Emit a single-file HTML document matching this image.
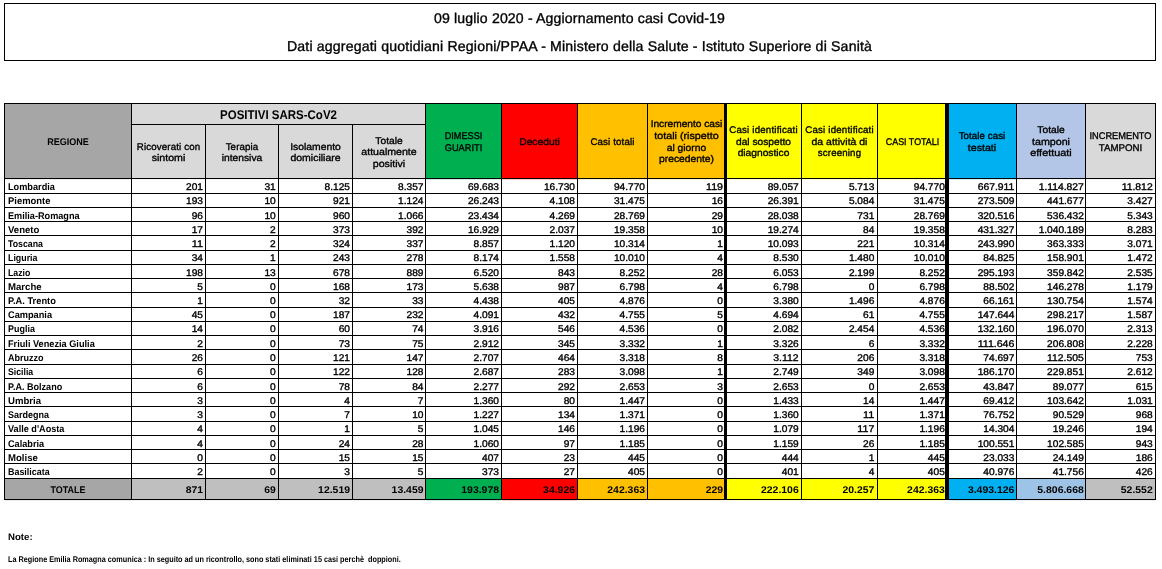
<!DOCTYPE html>
<html lang="it"><head><meta charset="utf-8"><title>Aggiornamento casi Covid-19</title>
<style>
html,body{margin:0;padding:0;background:#fff}
body{width:1162px;height:569px;position:relative;overflow:hidden;font-family:"Liberation Sans",sans-serif;color:#000;text-rendering:geometricPrecision;-webkit-text-stroke:0.35px #000}
div{position:absolute;white-space:nowrap}
.bg{}
.ln{background:#000}
.x{font-size:9.7px;line-height:12px;height:12px}
.c{text-align:right}
.m{text-align:center}
.b{font-weight:bold;-webkit-text-stroke:0}
</style></head><body>
<div style="left:4px;top:3px;width:1150px;height:56px;border:1px solid #000"></div>
<div class="x m" style="left:3.5px;width:1152px;top:9px;letter-spacing:0.152px;font-size:14.1px;line-height:18px;height:18px;">09 luglio 2020 - Aggiornamento casi Covid-19</div>
<div class="x m" style="left:3.5px;width:1152px;top:37px;letter-spacing:0.177px;font-size:14.1px;line-height:18px;height:18px;">Dati aggregati quotidiani Regioni/PPAA - Ministero della Salute - Istituto Superiore di Sanità</div>
<div class="bg" style="left:4px;top:103px;width:127px;height:75px;background:#a6a6a6"></div>
<div class="bg" style="left:131px;top:124px;width:74px;height:54px;background:#d9d9d9"></div>
<div class="bg" style="left:205px;top:124px;width:73px;height:54px;background:#d9d9d9"></div>
<div class="bg" style="left:278px;top:124px;width:74px;height:54px;background:#d9d9d9"></div>
<div class="bg" style="left:352px;top:124px;width:73px;height:54px;background:#d9d9d9"></div>
<div class="bg" style="left:425px;top:103px;width:76px;height:75px;background:#00b050"></div>
<div class="bg" style="left:501px;top:103px;width:76px;height:75px;background:#ff0000"></div>
<div class="bg" style="left:577px;top:103px;width:70px;height:75px;background:#ffc000"></div>
<div class="bg" style="left:647px;top:103px;width:78px;height:75px;background:#ffc000"></div>
<div class="bg" style="left:725px;top:103px;width:76px;height:75px;background:#ffff00"></div>
<div class="bg" style="left:801px;top:103px;width:76px;height:75px;background:#ffff00"></div>
<div class="bg" style="left:877px;top:103px;width:70px;height:75px;background:#ffff00"></div>
<div class="bg" style="left:947px;top:103px;width:69px;height:75px;background:#00b0f0"></div>
<div class="bg" style="left:1016px;top:103px;width:69px;height:75px;background:#b4c6e7"></div>
<div class="bg" style="left:1085px;top:103px;width:70px;height:75px;background:#d9d9d9"></div>
<div class="bg" style="left:131px;top:103px;width:294px;height:21px;background:#d9d9d9"></div>
<div class="bg" style="left:4px;top:478px;width:127px;height:21px;background:#a6a6a6"></div>
<div class="bg" style="left:131px;top:478px;width:74px;height:21px;background:#bfbfbf"></div>
<div class="bg" style="left:205px;top:478px;width:73px;height:21px;background:#bfbfbf"></div>
<div class="bg" style="left:278px;top:478px;width:74px;height:21px;background:#bfbfbf"></div>
<div class="bg" style="left:352px;top:478px;width:73px;height:21px;background:#bfbfbf"></div>
<div class="bg" style="left:425px;top:478px;width:76px;height:21px;background:#00b050"></div>
<div class="bg" style="left:501px;top:478px;width:76px;height:21px;background:#ff0000"></div>
<div class="bg" style="left:577px;top:478px;width:70px;height:21px;background:#ffc000"></div>
<div class="bg" style="left:647px;top:478px;width:78px;height:21px;background:#ffc000"></div>
<div class="bg" style="left:725px;top:478px;width:76px;height:21px;background:#ffff00"></div>
<div class="bg" style="left:801px;top:478px;width:76px;height:21px;background:#ffff00"></div>
<div class="bg" style="left:877px;top:478px;width:70px;height:21px;background:#ffff00"></div>
<div class="bg" style="left:947px;top:478px;width:69px;height:21px;background:#00b0f0"></div>
<div class="bg" style="left:1016px;top:478px;width:69px;height:21px;background:#9dc3e6"></div>
<div class="bg" style="left:1085px;top:478px;width:70px;height:21px;background:#bfbfbf"></div>
<div style="left:5px;top:179px;width:126px;height:1px;background:#a6a6a6;opacity:.2"></div>
<div style="left:5px;top:500px;width:126px;height:1px;background:#a6a6a6;opacity:.2"></div>
<div style="left:132px;top:179px;width:73px;height:1px;background:#d9d9d9;opacity:.2"></div>
<div style="left:132px;top:500px;width:73px;height:1px;background:#bfbfbf;opacity:.2"></div>
<div style="left:206px;top:179px;width:72px;height:1px;background:#d9d9d9;opacity:.2"></div>
<div style="left:206px;top:500px;width:72px;height:1px;background:#bfbfbf;opacity:.2"></div>
<div style="left:279px;top:179px;width:73px;height:1px;background:#d9d9d9;opacity:.2"></div>
<div style="left:279px;top:500px;width:73px;height:1px;background:#bfbfbf;opacity:.2"></div>
<div style="left:353px;top:179px;width:72px;height:1px;background:#d9d9d9;opacity:.2"></div>
<div style="left:353px;top:500px;width:72px;height:1px;background:#bfbfbf;opacity:.2"></div>
<div style="left:426px;top:179px;width:75px;height:1px;background:#00b050;opacity:.2"></div>
<div style="left:426px;top:500px;width:75px;height:1px;background:#00b050;opacity:.2"></div>
<div style="left:502px;top:179px;width:75px;height:1px;background:#ff0000;opacity:.2"></div>
<div style="left:502px;top:500px;width:75px;height:1px;background:#ff0000;opacity:.2"></div>
<div style="left:578px;top:179px;width:69px;height:1px;background:#ffc000;opacity:.2"></div>
<div style="left:578px;top:500px;width:69px;height:1px;background:#ffc000;opacity:.2"></div>
<div style="left:648px;top:179px;width:76px;height:1px;background:#ffc000;opacity:.2"></div>
<div style="left:648px;top:500px;width:76px;height:1px;background:#ffc000;opacity:.2"></div>
<div style="left:727px;top:179px;width:74px;height:1px;background:#ffff00;opacity:.2"></div>
<div style="left:727px;top:500px;width:74px;height:1px;background:#ffff00;opacity:.2"></div>
<div style="left:802px;top:179px;width:75px;height:1px;background:#ffff00;opacity:.2"></div>
<div style="left:802px;top:500px;width:75px;height:1px;background:#ffff00;opacity:.2"></div>
<div style="left:878px;top:179px;width:67px;height:1px;background:#ffff00;opacity:.2"></div>
<div style="left:878px;top:500px;width:67px;height:1px;background:#ffff00;opacity:.2"></div>
<div style="left:949px;top:179px;width:67px;height:1px;background:#00b0f0;opacity:.2"></div>
<div style="left:949px;top:500px;width:67px;height:1px;background:#00b0f0;opacity:.2"></div>
<div style="left:1017px;top:179px;width:68px;height:1px;background:#b4c6e7;opacity:.2"></div>
<div style="left:1017px;top:500px;width:68px;height:1px;background:#9dc3e6;opacity:.2"></div>
<div style="left:1086px;top:179px;width:69px;height:1px;background:#d9d9d9;opacity:.2"></div>
<div style="left:1086px;top:500px;width:69px;height:1px;background:#bfbfbf;opacity:.2"></div>
<div class="ln" style="left:4px;top:103px;width:1152px;height:1px"></div>
<div class="ln" style="left:131px;top:124px;width:294px;height:1px"></div>
<div class="ln" style="left:4px;top:178px;width:1152px;height:1px"></div>
<div class="ln" style="left:4px;top:193px;width:1152px;height:1px"></div>
<div class="ln" style="left:4px;top:207px;width:1152px;height:1px"></div>
<div class="ln" style="left:4px;top:221px;width:1152px;height:1px"></div>
<div class="ln" style="left:4px;top:235px;width:1152px;height:1px"></div>
<div class="ln" style="left:4px;top:250px;width:1152px;height:1px"></div>
<div class="ln" style="left:4px;top:264px;width:1152px;height:1px"></div>
<div class="ln" style="left:4px;top:278px;width:1152px;height:1px"></div>
<div class="ln" style="left:4px;top:292px;width:1152px;height:1px"></div>
<div class="ln" style="left:4px;top:307px;width:1152px;height:1px"></div>
<div class="ln" style="left:4px;top:321px;width:1152px;height:1px"></div>
<div class="ln" style="left:4px;top:335px;width:1152px;height:1px"></div>
<div class="ln" style="left:4px;top:349px;width:1152px;height:1px"></div>
<div class="ln" style="left:4px;top:364px;width:1152px;height:1px"></div>
<div class="ln" style="left:4px;top:378px;width:1152px;height:1px"></div>
<div class="ln" style="left:4px;top:392px;width:1152px;height:1px"></div>
<div class="ln" style="left:4px;top:406px;width:1152px;height:1px"></div>
<div class="ln" style="left:4px;top:421px;width:1152px;height:1px"></div>
<div class="ln" style="left:4px;top:435px;width:1152px;height:1px"></div>
<div class="ln" style="left:4px;top:449px;width:1152px;height:1px"></div>
<div class="ln" style="left:4px;top:463px;width:1152px;height:1px"></div>
<div class="ln" style="left:4px;top:478px;width:1152px;height:1px"></div>
<div class="ln" style="left:4px;top:499px;width:1152px;height:1px"></div>
<div class="ln" style="left:4px;top:103px;width:1px;height:397px"></div>
<div class="ln" style="left:131px;top:103px;width:1px;height:397px"></div>
<div class="ln" style="left:205px;top:124px;width:1px;height:376px"></div>
<div class="ln" style="left:278px;top:124px;width:1px;height:376px"></div>
<div class="ln" style="left:352px;top:124px;width:1px;height:376px"></div>
<div class="ln" style="left:425px;top:103px;width:1px;height:397px"></div>
<div class="ln" style="left:501px;top:103px;width:1px;height:397px"></div>
<div class="ln" style="left:577px;top:103px;width:1px;height:397px"></div>
<div class="ln" style="left:647px;top:103px;width:1px;height:397px"></div>
<div class="ln" style="left:724px;top:103px;width:3px;height:397px"></div>
<div class="ln" style="left:801px;top:103px;width:1px;height:397px"></div>
<div class="ln" style="left:877px;top:103px;width:1px;height:397px"></div>
<div class="ln" style="left:945px;top:103px;width:4px;height:397px"></div>
<div class="ln" style="left:1016px;top:103px;width:1px;height:397px"></div>
<div class="ln" style="left:1085px;top:103px;width:1px;height:397px"></div>
<div class="ln" style="left:1155px;top:103px;width:1px;height:397px"></div>
<div class="x m b" style="left:5px;width:126px;top:137px;transform:scaleX(0.9336);transform-origin:center center;">REGIONE</div>
<div class="x m" style="left:132px;width:73px;top:142px;letter-spacing:0.148px;">Ricoverati con</div>
<div class="x m" style="left:132px;width:73px;top:153px;transform:scaleX(1.0951);transform-origin:center center;">sintomi</div>
<div class="x m" style="left:206px;width:72px;top:142px;letter-spacing:0.133px;">Terapia</div>
<div class="x m" style="left:206px;width:72px;top:153px;transform:scaleX(1.057);transform-origin:center center;">intensiva</div>
<div class="x m" style="left:279px;width:73px;top:142px;transform:scaleX(1.0678);transform-origin:center center;">Isolamento</div>
<div class="x m" style="left:279px;width:73px;top:153px;transform:scaleX(1.0834);transform-origin:center center;">domiciliare</div>
<div class="x m" style="left:353px;width:72px;top:136px;transform:scaleX(1.0574);transform-origin:center center;">Totale</div>
<div class="x m" style="left:353px;width:72px;top:147px;transform:scaleX(1.0937);transform-origin:center center;">attualmente</div>
<div class="x m" style="left:353px;width:72px;top:159px;transform:scaleX(1.0949);transform-origin:center center;">positivi</div>
<div class="x m" style="left:426px;width:75px;top:131px;transform:scaleX(0.9425);transform-origin:center center;">DIMESSI</div>
<div class="x m" style="left:426px;width:75px;top:143px;transform:scaleX(0.9532);transform-origin:center center;">GUARITI</div>
<div class="x m" style="left:502px;width:75px;top:137px;transform:scaleX(1.0605);transform-origin:center center;">Deceduti</div>
<div class="x m" style="left:578px;width:69px;top:137px;letter-spacing:0.155px;">Casi totali</div>
<div class="x m" style="left:648px;width:77px;top:119px;transform:scaleX(1.0485);transform-origin:center center;">Incremento casi</div>
<div class="x m" style="left:648px;width:77px;top:131px;transform:scaleX(1.1071);transform-origin:center center;">totali (rispetto</div>
<div class="x m" style="left:648px;width:77px;top:143px;transform:scaleX(1.0678);transform-origin:center center;">al giorno</div>
<div class="x m" style="left:648px;width:77px;top:154px;transform:scaleX(1.0646);transform-origin:center center;">precedente)</div>
<div class="x m" style="left:726px;width:75px;top:125px;letter-spacing:0.2px;">Casi identificati</div>
<div class="x m" style="left:726px;width:75px;top:137px;transform:scaleX(1.0528);transform-origin:center center;">dal sospetto</div>
<div class="x m" style="left:726px;width:75px;top:148px;transform:scaleX(1.0534);transform-origin:center center;">diagnostico</div>
<div class="x m" style="left:802px;width:75px;top:125px;letter-spacing:0.2px;">Casi identificati</div>
<div class="x m" style="left:802px;width:75px;top:137px;transform:scaleX(1.0813);transform-origin:center center;">da attività di</div>
<div class="x m" style="left:802px;width:75px;top:148px;letter-spacing:0.153px;">screening</div>
<div class="x m" style="left:878px;width:69px;top:137px;transform:scaleX(0.92);transform-origin:center center;">CASI TOTALI</div>
<div class="x m" style="left:948px;width:68px;top:131px;letter-spacing:0.086px;">Totale casi</div>
<div class="x m" style="left:948px;width:68px;top:143px;transform:scaleX(1.0992);transform-origin:center center;">testati</div>
<div class="x m" style="left:1017px;width:68px;top:125px;transform:scaleX(1.0574);transform-origin:center center;">Totale</div>
<div class="x m" style="left:1017px;width:68px;top:137px;transform:scaleX(1.1012);transform-origin:center center;">tamponi</div>
<div class="x m" style="left:1017px;width:68px;top:148px;transform:scaleX(1.1218);transform-origin:center center;">effettuati</div>
<div class="x m" style="left:1086px;width:69px;top:131px;transform:scaleX(0.9553);transform-origin:center center;">INCREMENTO</div>
<div class="x m" style="left:1086px;width:69px;top:143px;letter-spacing:0.032px;">TAMPONI</div>
<div class="x m b" style="left:132px;width:293px;top:107px;transform:scaleX(0.913);transform-origin:center center;font-size:12.6px;line-height:16px;height:16px;">POSITIVI SARS-CoV2</div>
<div class="x b" style="left:7.8px;width:123.2px;top:182px;transform:scaleX(0.9467);transform-origin:left center;">Lombardia</div>
<div class="x c" style="left:132px;width:71px;top:182px;transform:scaleX(1.0475);transform-origin:right center;">201</div>
<div class="x c" style="left:206px;width:69.7px;top:182px;transform:scaleX(1.0475);transform-origin:right center;">31</div>
<div class="x c" style="left:279px;width:71px;top:182px;transform:scaleX(1.0472);transform-origin:right center;">8.125</div>
<div class="x c" style="left:353px;width:70.5px;top:182px;transform:scaleX(1.0472);transform-origin:right center;">8.357</div>
<div class="x c" style="left:426px;width:73px;top:182px;transform:scaleX(1.0473);transform-origin:right center;">69.683</div>
<div class="x c" style="left:502px;width:73px;top:182px;transform:scaleX(1.0473);transform-origin:right center;">16.730</div>
<div class="x c" style="left:578px;width:67px;top:182px;transform:scaleX(1.0473);transform-origin:right center;">94.770</div>
<div class="x c" style="left:648px;width:75px;top:182px;transform:scaleX(1.0963);transform-origin:right center;">119</div>
<div class="x c" style="left:726px;width:72.7px;top:182px;transform:scaleX(1.0473);transform-origin:right center;">89.057</div>
<div class="x c" style="left:802px;width:72.3px;top:182px;transform:scaleX(1.0472);transform-origin:right center;">5.713</div>
<div class="x c" style="left:878px;width:66.8px;top:182px;transform:scaleX(1.0473);transform-origin:right center;">94.770</div>
<div class="x c" style="left:948px;width:66.4px;top:182px;transform:scaleX(1.0693);transform-origin:right center;">667.911</div>
<div class="x c" style="left:1017px;width:66.8px;top:182px;transform:scaleX(1.0649);transform-origin:right center;">1.114.827</div>
<div class="x c" style="left:1086px;width:66.7px;top:182px;transform:scaleX(1.0733);transform-origin:right center;">11.812</div>
<div class="x b" style="left:7.8px;width:123.2px;top:196px;transform:scaleX(0.9751);transform-origin:left center;">Piemonte</div>
<div class="x c" style="left:132px;width:71px;top:196px;transform:scaleX(1.0475);transform-origin:right center;">193</div>
<div class="x c" style="left:206px;width:69.7px;top:196px;transform:scaleX(1.0475);transform-origin:right center;">10</div>
<div class="x c" style="left:279px;width:71px;top:196px;transform:scaleX(1.0475);transform-origin:right center;">921</div>
<div class="x c" style="left:353px;width:70.5px;top:196px;transform:scaleX(1.0472);transform-origin:right center;">1.124</div>
<div class="x c" style="left:426px;width:73px;top:196px;transform:scaleX(1.0473);transform-origin:right center;">26.243</div>
<div class="x c" style="left:502px;width:73px;top:196px;transform:scaleX(1.0472);transform-origin:right center;">4.108</div>
<div class="x c" style="left:578px;width:67px;top:196px;transform:scaleX(1.0473);transform-origin:right center;">31.475</div>
<div class="x c" style="left:648px;width:75px;top:196px;transform:scaleX(1.0475);transform-origin:right center;">16</div>
<div class="x c" style="left:726px;width:72.7px;top:196px;transform:scaleX(1.0473);transform-origin:right center;">26.391</div>
<div class="x c" style="left:802px;width:72.3px;top:196px;transform:scaleX(1.0472);transform-origin:right center;">5.084</div>
<div class="x c" style="left:878px;width:66.8px;top:196px;transform:scaleX(1.0473);transform-origin:right center;">31.475</div>
<div class="x c" style="left:948px;width:66.4px;top:196px;transform:scaleX(1.0473);transform-origin:right center;">273.509</div>
<div class="x c" style="left:1017px;width:66.8px;top:196px;transform:scaleX(1.0473);transform-origin:right center;">441.677</div>
<div class="x c" style="left:1086px;width:66.7px;top:196px;transform:scaleX(1.0472);transform-origin:right center;">3.427</div>
<div class="x b" style="left:7.8px;width:123.2px;top:211px;transform:scaleX(0.9434);transform-origin:left center;">Emilia-Romagna</div>
<div class="x c" style="left:132px;width:71px;top:211px;transform:scaleX(1.0475);transform-origin:right center;">96</div>
<div class="x c" style="left:206px;width:69.7px;top:211px;transform:scaleX(1.0475);transform-origin:right center;">10</div>
<div class="x c" style="left:279px;width:71px;top:211px;transform:scaleX(1.0475);transform-origin:right center;">960</div>
<div class="x c" style="left:353px;width:70.5px;top:211px;transform:scaleX(1.0472);transform-origin:right center;">1.066</div>
<div class="x c" style="left:426px;width:73px;top:211px;transform:scaleX(1.0473);transform-origin:right center;">23.434</div>
<div class="x c" style="left:502px;width:73px;top:211px;transform:scaleX(1.0472);transform-origin:right center;">4.269</div>
<div class="x c" style="left:578px;width:67px;top:211px;transform:scaleX(1.0473);transform-origin:right center;">28.769</div>
<div class="x c" style="left:648px;width:75px;top:211px;transform:scaleX(1.0475);transform-origin:right center;">29</div>
<div class="x c" style="left:726px;width:72.7px;top:211px;transform:scaleX(1.0473);transform-origin:right center;">28.038</div>
<div class="x c" style="left:802px;width:72.3px;top:211px;transform:scaleX(1.0475);transform-origin:right center;">731</div>
<div class="x c" style="left:878px;width:66.8px;top:211px;transform:scaleX(1.0473);transform-origin:right center;">28.769</div>
<div class="x c" style="left:948px;width:66.4px;top:211px;transform:scaleX(1.0473);transform-origin:right center;">320.516</div>
<div class="x c" style="left:1017px;width:66.8px;top:211px;transform:scaleX(1.0473);transform-origin:right center;">536.432</div>
<div class="x c" style="left:1086px;width:66.7px;top:211px;transform:scaleX(1.0472);transform-origin:right center;">5.343</div>
<div class="x b" style="left:7.8px;width:123.2px;top:225px;transform:scaleX(0.9882);transform-origin:left center;">Veneto</div>
<div class="x c" style="left:132px;width:71px;top:225px;transform:scaleX(1.0475);transform-origin:right center;">17</div>
<div class="x c" style="left:206px;width:69.7px;top:225px;transform:scaleX(1.0475);transform-origin:right center;">2</div>
<div class="x c" style="left:279px;width:71px;top:225px;transform:scaleX(1.0475);transform-origin:right center;">373</div>
<div class="x c" style="left:353px;width:70.5px;top:225px;transform:scaleX(1.0475);transform-origin:right center;">392</div>
<div class="x c" style="left:426px;width:73px;top:225px;transform:scaleX(1.0473);transform-origin:right center;">16.929</div>
<div class="x c" style="left:502px;width:73px;top:225px;transform:scaleX(1.0472);transform-origin:right center;">2.037</div>
<div class="x c" style="left:578px;width:67px;top:225px;transform:scaleX(1.0473);transform-origin:right center;">19.358</div>
<div class="x c" style="left:648px;width:75px;top:225px;transform:scaleX(1.0475);transform-origin:right center;">10</div>
<div class="x c" style="left:726px;width:72.7px;top:225px;transform:scaleX(1.0473);transform-origin:right center;">19.274</div>
<div class="x c" style="left:802px;width:72.3px;top:225px;transform:scaleX(1.0475);transform-origin:right center;">84</div>
<div class="x c" style="left:878px;width:66.8px;top:225px;transform:scaleX(1.0473);transform-origin:right center;">19.358</div>
<div class="x c" style="left:948px;width:66.4px;top:225px;transform:scaleX(1.0473);transform-origin:right center;">431.327</div>
<div class="x c" style="left:1017px;width:66.8px;top:225px;transform:scaleX(1.0472);transform-origin:right center;">1.040.189</div>
<div class="x c" style="left:1086px;width:66.7px;top:225px;transform:scaleX(1.0472);transform-origin:right center;">8.283</div>
<div class="x b" style="left:7.8px;width:123.2px;top:239px;transform:scaleX(0.9047);transform-origin:left center;">Toscana</div>
<div class="x c" style="left:132px;width:71px;top:239px;transform:scaleX(1.1224);transform-origin:right center;">11</div>
<div class="x c" style="left:206px;width:69.7px;top:239px;transform:scaleX(1.0475);transform-origin:right center;">2</div>
<div class="x c" style="left:279px;width:71px;top:239px;transform:scaleX(1.0475);transform-origin:right center;">324</div>
<div class="x c" style="left:353px;width:70.5px;top:239px;transform:scaleX(1.0475);transform-origin:right center;">337</div>
<div class="x c" style="left:426px;width:73px;top:239px;transform:scaleX(1.0472);transform-origin:right center;">8.857</div>
<div class="x c" style="left:502px;width:73px;top:239px;transform:scaleX(1.0472);transform-origin:right center;">1.120</div>
<div class="x c" style="left:578px;width:67px;top:239px;transform:scaleX(1.0473);transform-origin:right center;">10.314</div>
<div class="x c" style="left:648px;width:75px;top:239px;transform:scaleX(1.0475);transform-origin:right center;">1</div>
<div class="x c" style="left:726px;width:72.7px;top:239px;transform:scaleX(1.0473);transform-origin:right center;">10.093</div>
<div class="x c" style="left:802px;width:72.3px;top:239px;transform:scaleX(1.0475);transform-origin:right center;">221</div>
<div class="x c" style="left:878px;width:66.8px;top:239px;transform:scaleX(1.0473);transform-origin:right center;">10.314</div>
<div class="x c" style="left:948px;width:66.4px;top:239px;transform:scaleX(1.0473);transform-origin:right center;">243.990</div>
<div class="x c" style="left:1017px;width:66.8px;top:239px;transform:scaleX(1.0473);transform-origin:right center;">363.333</div>
<div class="x c" style="left:1086px;width:66.7px;top:239px;transform:scaleX(1.0472);transform-origin:right center;">3.071</div>
<div class="x b" style="left:7.8px;width:123.2px;top:253px;transform:scaleX(0.9136);transform-origin:left center;">Liguria</div>
<div class="x c" style="left:132px;width:71px;top:253px;transform:scaleX(1.0475);transform-origin:right center;">34</div>
<div class="x c" style="left:206px;width:69.7px;top:253px;transform:scaleX(1.0475);transform-origin:right center;">1</div>
<div class="x c" style="left:279px;width:71px;top:253px;transform:scaleX(1.0475);transform-origin:right center;">243</div>
<div class="x c" style="left:353px;width:70.5px;top:253px;transform:scaleX(1.0475);transform-origin:right center;">278</div>
<div class="x c" style="left:426px;width:73px;top:253px;transform:scaleX(1.0472);transform-origin:right center;">8.174</div>
<div class="x c" style="left:502px;width:73px;top:253px;transform:scaleX(1.0472);transform-origin:right center;">1.558</div>
<div class="x c" style="left:578px;width:67px;top:253px;transform:scaleX(1.0473);transform-origin:right center;">10.010</div>
<div class="x c" style="left:648px;width:75px;top:253px;transform:scaleX(1.0475);transform-origin:right center;">4</div>
<div class="x c" style="left:726px;width:72.7px;top:253px;transform:scaleX(1.0472);transform-origin:right center;">8.530</div>
<div class="x c" style="left:802px;width:72.3px;top:253px;transform:scaleX(1.0472);transform-origin:right center;">1.480</div>
<div class="x c" style="left:878px;width:66.8px;top:253px;transform:scaleX(1.0473);transform-origin:right center;">10.010</div>
<div class="x c" style="left:948px;width:66.4px;top:253px;transform:scaleX(1.0473);transform-origin:right center;">84.825</div>
<div class="x c" style="left:1017px;width:66.8px;top:253px;transform:scaleX(1.0473);transform-origin:right center;">158.901</div>
<div class="x c" style="left:1086px;width:66.7px;top:253px;transform:scaleX(1.0472);transform-origin:right center;">1.472</div>
<div class="x b" style="left:7.8px;width:123.2px;top:268px;transform:scaleX(0.901);transform-origin:left center;">Lazio</div>
<div class="x c" style="left:132px;width:71px;top:268px;transform:scaleX(1.0475);transform-origin:right center;">198</div>
<div class="x c" style="left:206px;width:69.7px;top:268px;transform:scaleX(1.0475);transform-origin:right center;">13</div>
<div class="x c" style="left:279px;width:71px;top:268px;transform:scaleX(1.0475);transform-origin:right center;">678</div>
<div class="x c" style="left:353px;width:70.5px;top:268px;transform:scaleX(1.0475);transform-origin:right center;">889</div>
<div class="x c" style="left:426px;width:73px;top:268px;transform:scaleX(1.0472);transform-origin:right center;">6.520</div>
<div class="x c" style="left:502px;width:73px;top:268px;transform:scaleX(1.0475);transform-origin:right center;">843</div>
<div class="x c" style="left:578px;width:67px;top:268px;transform:scaleX(1.0472);transform-origin:right center;">8.252</div>
<div class="x c" style="left:648px;width:75px;top:268px;transform:scaleX(1.0475);transform-origin:right center;">28</div>
<div class="x c" style="left:726px;width:72.7px;top:268px;transform:scaleX(1.0472);transform-origin:right center;">6.053</div>
<div class="x c" style="left:802px;width:72.3px;top:268px;transform:scaleX(1.0472);transform-origin:right center;">2.199</div>
<div class="x c" style="left:878px;width:66.8px;top:268px;transform:scaleX(1.0472);transform-origin:right center;">8.252</div>
<div class="x c" style="left:948px;width:66.4px;top:268px;transform:scaleX(1.0473);transform-origin:right center;">295.193</div>
<div class="x c" style="left:1017px;width:66.8px;top:268px;transform:scaleX(1.0473);transform-origin:right center;">359.842</div>
<div class="x c" style="left:1086px;width:66.7px;top:268px;transform:scaleX(1.0472);transform-origin:right center;">2.535</div>
<div class="x b" style="left:7.8px;width:123.2px;top:282px;transform:scaleX(0.9932);transform-origin:left center;">Marche</div>
<div class="x c" style="left:132px;width:71px;top:282px;transform:scaleX(1.0475);transform-origin:right center;">5</div>
<div class="x c" style="left:206px;width:69.7px;top:282px;transform:scaleX(1.0475);transform-origin:right center;">0</div>
<div class="x c" style="left:279px;width:71px;top:282px;transform:scaleX(1.0475);transform-origin:right center;">168</div>
<div class="x c" style="left:353px;width:70.5px;top:282px;transform:scaleX(1.0475);transform-origin:right center;">173</div>
<div class="x c" style="left:426px;width:73px;top:282px;transform:scaleX(1.0472);transform-origin:right center;">5.638</div>
<div class="x c" style="left:502px;width:73px;top:282px;transform:scaleX(1.0475);transform-origin:right center;">987</div>
<div class="x c" style="left:578px;width:67px;top:282px;transform:scaleX(1.0472);transform-origin:right center;">6.798</div>
<div class="x c" style="left:648px;width:75px;top:282px;transform:scaleX(1.0475);transform-origin:right center;">4</div>
<div class="x c" style="left:726px;width:72.7px;top:282px;transform:scaleX(1.0472);transform-origin:right center;">6.798</div>
<div class="x c" style="left:802px;width:72.3px;top:282px;transform:scaleX(1.0475);transform-origin:right center;">0</div>
<div class="x c" style="left:878px;width:66.8px;top:282px;transform:scaleX(1.0472);transform-origin:right center;">6.798</div>
<div class="x c" style="left:948px;width:66.4px;top:282px;transform:scaleX(1.0473);transform-origin:right center;">88.502</div>
<div class="x c" style="left:1017px;width:66.8px;top:282px;transform:scaleX(1.0473);transform-origin:right center;">146.278</div>
<div class="x c" style="left:1086px;width:66.7px;top:282px;transform:scaleX(1.0472);transform-origin:right center;">1.179</div>
<div class="x b" style="left:7.8px;width:123.2px;top:296px;transform:scaleX(0.9586);transform-origin:left center;">P.A. Trento</div>
<div class="x c" style="left:132px;width:71px;top:296px;transform:scaleX(1.0475);transform-origin:right center;">1</div>
<div class="x c" style="left:206px;width:69.7px;top:296px;transform:scaleX(1.0475);transform-origin:right center;">0</div>
<div class="x c" style="left:279px;width:71px;top:296px;transform:scaleX(1.0475);transform-origin:right center;">32</div>
<div class="x c" style="left:353px;width:70.5px;top:296px;transform:scaleX(1.0475);transform-origin:right center;">33</div>
<div class="x c" style="left:426px;width:73px;top:296px;transform:scaleX(1.0472);transform-origin:right center;">4.438</div>
<div class="x c" style="left:502px;width:73px;top:296px;transform:scaleX(1.0475);transform-origin:right center;">405</div>
<div class="x c" style="left:578px;width:67px;top:296px;transform:scaleX(1.0472);transform-origin:right center;">4.876</div>
<div class="x c" style="left:648px;width:75px;top:296px;transform:scaleX(1.0475);transform-origin:right center;">0</div>
<div class="x c" style="left:726px;width:72.7px;top:296px;transform:scaleX(1.0472);transform-origin:right center;">3.380</div>
<div class="x c" style="left:802px;width:72.3px;top:296px;transform:scaleX(1.0472);transform-origin:right center;">1.496</div>
<div class="x c" style="left:878px;width:66.8px;top:296px;transform:scaleX(1.0472);transform-origin:right center;">4.876</div>
<div class="x c" style="left:948px;width:66.4px;top:296px;transform:scaleX(1.0473);transform-origin:right center;">66.161</div>
<div class="x c" style="left:1017px;width:66.8px;top:296px;transform:scaleX(1.0473);transform-origin:right center;">130.754</div>
<div class="x c" style="left:1086px;width:66.7px;top:296px;transform:scaleX(1.0472);transform-origin:right center;">1.574</div>
<div class="x b" style="left:7.8px;width:123.2px;top:310px;transform:scaleX(0.9517);transform-origin:left center;">Campania</div>
<div class="x c" style="left:132px;width:71px;top:310px;transform:scaleX(1.0475);transform-origin:right center;">45</div>
<div class="x c" style="left:206px;width:69.7px;top:310px;transform:scaleX(1.0475);transform-origin:right center;">0</div>
<div class="x c" style="left:279px;width:71px;top:310px;transform:scaleX(1.0475);transform-origin:right center;">187</div>
<div class="x c" style="left:353px;width:70.5px;top:310px;transform:scaleX(1.0475);transform-origin:right center;">232</div>
<div class="x c" style="left:426px;width:73px;top:310px;transform:scaleX(1.0472);transform-origin:right center;">4.091</div>
<div class="x c" style="left:502px;width:73px;top:310px;transform:scaleX(1.0475);transform-origin:right center;">432</div>
<div class="x c" style="left:578px;width:67px;top:310px;transform:scaleX(1.0472);transform-origin:right center;">4.755</div>
<div class="x c" style="left:648px;width:75px;top:310px;transform:scaleX(1.0475);transform-origin:right center;">5</div>
<div class="x c" style="left:726px;width:72.7px;top:310px;transform:scaleX(1.0472);transform-origin:right center;">4.694</div>
<div class="x c" style="left:802px;width:72.3px;top:310px;transform:scaleX(1.0475);transform-origin:right center;">61</div>
<div class="x c" style="left:878px;width:66.8px;top:310px;transform:scaleX(1.0472);transform-origin:right center;">4.755</div>
<div class="x c" style="left:948px;width:66.4px;top:310px;transform:scaleX(1.0473);transform-origin:right center;">147.644</div>
<div class="x c" style="left:1017px;width:66.8px;top:310px;transform:scaleX(1.0473);transform-origin:right center;">298.217</div>
<div class="x c" style="left:1086px;width:66.7px;top:310px;transform:scaleX(1.0472);transform-origin:right center;">1.587</div>
<div class="x b" style="left:7.8px;width:123.2px;top:324px;transform:scaleX(0.925);transform-origin:left center;">Puglia</div>
<div class="x c" style="left:132px;width:71px;top:324px;transform:scaleX(1.0475);transform-origin:right center;">14</div>
<div class="x c" style="left:206px;width:69.7px;top:324px;transform:scaleX(1.0475);transform-origin:right center;">0</div>
<div class="x c" style="left:279px;width:71px;top:324px;transform:scaleX(1.0475);transform-origin:right center;">60</div>
<div class="x c" style="left:353px;width:70.5px;top:324px;transform:scaleX(1.0475);transform-origin:right center;">74</div>
<div class="x c" style="left:426px;width:73px;top:324px;transform:scaleX(1.0472);transform-origin:right center;">3.916</div>
<div class="x c" style="left:502px;width:73px;top:324px;transform:scaleX(1.0475);transform-origin:right center;">546</div>
<div class="x c" style="left:578px;width:67px;top:324px;transform:scaleX(1.0472);transform-origin:right center;">4.536</div>
<div class="x c" style="left:648px;width:75px;top:324px;transform:scaleX(1.0475);transform-origin:right center;">0</div>
<div class="x c" style="left:726px;width:72.7px;top:324px;transform:scaleX(1.0472);transform-origin:right center;">2.082</div>
<div class="x c" style="left:802px;width:72.3px;top:324px;transform:scaleX(1.0472);transform-origin:right center;">2.454</div>
<div class="x c" style="left:878px;width:66.8px;top:324px;transform:scaleX(1.0472);transform-origin:right center;">4.536</div>
<div class="x c" style="left:948px;width:66.4px;top:324px;transform:scaleX(1.0473);transform-origin:right center;">132.160</div>
<div class="x c" style="left:1017px;width:66.8px;top:324px;transform:scaleX(1.0473);transform-origin:right center;">196.070</div>
<div class="x c" style="left:1086px;width:66.7px;top:324px;transform:scaleX(1.0472);transform-origin:right center;">2.313</div>
<div class="x b" style="left:7.8px;width:123.2px;top:339px;transform:scaleX(0.9477);transform-origin:left center;">Friuli Venezia Giulia</div>
<div class="x c" style="left:132px;width:71px;top:339px;transform:scaleX(1.0475);transform-origin:right center;">2</div>
<div class="x c" style="left:206px;width:69.7px;top:339px;transform:scaleX(1.0475);transform-origin:right center;">0</div>
<div class="x c" style="left:279px;width:71px;top:339px;transform:scaleX(1.0475);transform-origin:right center;">73</div>
<div class="x c" style="left:353px;width:70.5px;top:339px;transform:scaleX(1.0475);transform-origin:right center;">75</div>
<div class="x c" style="left:426px;width:73px;top:339px;transform:scaleX(1.0472);transform-origin:right center;">2.912</div>
<div class="x c" style="left:502px;width:73px;top:339px;transform:scaleX(1.0475);transform-origin:right center;">345</div>
<div class="x c" style="left:578px;width:67px;top:339px;transform:scaleX(1.0472);transform-origin:right center;">3.332</div>
<div class="x c" style="left:648px;width:75px;top:339px;transform:scaleX(1.0475);transform-origin:right center;">1</div>
<div class="x c" style="left:726px;width:72.7px;top:339px;transform:scaleX(1.0472);transform-origin:right center;">3.326</div>
<div class="x c" style="left:802px;width:72.3px;top:339px;transform:scaleX(1.0475);transform-origin:right center;">6</div>
<div class="x c" style="left:878px;width:66.8px;top:339px;transform:scaleX(1.0472);transform-origin:right center;">3.332</div>
<div class="x c" style="left:948px;width:66.4px;top:339px;transform:scaleX(1.0922);transform-origin:right center;">111.646</div>
<div class="x c" style="left:1017px;width:66.8px;top:339px;transform:scaleX(1.0473);transform-origin:right center;">206.808</div>
<div class="x c" style="left:1086px;width:66.7px;top:339px;transform:scaleX(1.0472);transform-origin:right center;">2.228</div>
<div class="x b" style="left:7.8px;width:123.2px;top:353px;transform:scaleX(0.9326);transform-origin:left center;">Abruzzo</div>
<div class="x c" style="left:132px;width:71px;top:353px;transform:scaleX(1.0475);transform-origin:right center;">26</div>
<div class="x c" style="left:206px;width:69.7px;top:353px;transform:scaleX(1.0475);transform-origin:right center;">0</div>
<div class="x c" style="left:279px;width:71px;top:353px;transform:scaleX(1.0475);transform-origin:right center;">121</div>
<div class="x c" style="left:353px;width:70.5px;top:353px;transform:scaleX(1.0475);transform-origin:right center;">147</div>
<div class="x c" style="left:426px;width:73px;top:353px;transform:scaleX(1.0472);transform-origin:right center;">2.707</div>
<div class="x c" style="left:502px;width:73px;top:353px;transform:scaleX(1.0475);transform-origin:right center;">464</div>
<div class="x c" style="left:578px;width:67px;top:353px;transform:scaleX(1.0472);transform-origin:right center;">3.318</div>
<div class="x c" style="left:648px;width:75px;top:353px;transform:scaleX(1.0475);transform-origin:right center;">8</div>
<div class="x c" style="left:726px;width:72.7px;top:353px;transform:scaleX(1.0792);transform-origin:right center;">3.112</div>
<div class="x c" style="left:802px;width:72.3px;top:353px;transform:scaleX(1.0475);transform-origin:right center;">206</div>
<div class="x c" style="left:878px;width:66.8px;top:353px;transform:scaleX(1.0472);transform-origin:right center;">3.318</div>
<div class="x c" style="left:948px;width:66.4px;top:353px;transform:scaleX(1.0473);transform-origin:right center;">74.697</div>
<div class="x c" style="left:1017px;width:66.8px;top:353px;transform:scaleX(1.0693);transform-origin:right center;">112.505</div>
<div class="x c" style="left:1086px;width:66.7px;top:353px;transform:scaleX(1.0475);transform-origin:right center;">753</div>
<div class="x b" style="left:7.8px;width:123.2px;top:367px;transform:scaleX(0.8991);transform-origin:left center;">Sicilia</div>
<div class="x c" style="left:132px;width:71px;top:367px;transform:scaleX(1.0475);transform-origin:right center;">6</div>
<div class="x c" style="left:206px;width:69.7px;top:367px;transform:scaleX(1.0475);transform-origin:right center;">0</div>
<div class="x c" style="left:279px;width:71px;top:367px;transform:scaleX(1.0475);transform-origin:right center;">122</div>
<div class="x c" style="left:353px;width:70.5px;top:367px;transform:scaleX(1.0475);transform-origin:right center;">128</div>
<div class="x c" style="left:426px;width:73px;top:367px;transform:scaleX(1.0472);transform-origin:right center;">2.687</div>
<div class="x c" style="left:502px;width:73px;top:367px;transform:scaleX(1.0475);transform-origin:right center;">283</div>
<div class="x c" style="left:578px;width:67px;top:367px;transform:scaleX(1.0472);transform-origin:right center;">3.098</div>
<div class="x c" style="left:648px;width:75px;top:367px;transform:scaleX(1.0475);transform-origin:right center;">1</div>
<div class="x c" style="left:726px;width:72.7px;top:367px;transform:scaleX(1.0472);transform-origin:right center;">2.749</div>
<div class="x c" style="left:802px;width:72.3px;top:367px;transform:scaleX(1.0475);transform-origin:right center;">349</div>
<div class="x c" style="left:878px;width:66.8px;top:367px;transform:scaleX(1.0472);transform-origin:right center;">3.098</div>
<div class="x c" style="left:948px;width:66.4px;top:367px;transform:scaleX(1.0473);transform-origin:right center;">186.170</div>
<div class="x c" style="left:1017px;width:66.8px;top:367px;transform:scaleX(1.0473);transform-origin:right center;">229.851</div>
<div class="x c" style="left:1086px;width:66.7px;top:367px;transform:scaleX(1.0472);transform-origin:right center;">2.612</div>
<div class="x b" style="left:7.8px;width:123.2px;top:382px;transform:scaleX(0.9358);transform-origin:left center;">P.A. Bolzano</div>
<div class="x c" style="left:132px;width:71px;top:382px;transform:scaleX(1.0475);transform-origin:right center;">6</div>
<div class="x c" style="left:206px;width:69.7px;top:382px;transform:scaleX(1.0475);transform-origin:right center;">0</div>
<div class="x c" style="left:279px;width:71px;top:382px;transform:scaleX(1.0475);transform-origin:right center;">78</div>
<div class="x c" style="left:353px;width:70.5px;top:382px;transform:scaleX(1.0475);transform-origin:right center;">84</div>
<div class="x c" style="left:426px;width:73px;top:382px;transform:scaleX(1.0472);transform-origin:right center;">2.277</div>
<div class="x c" style="left:502px;width:73px;top:382px;transform:scaleX(1.0475);transform-origin:right center;">292</div>
<div class="x c" style="left:578px;width:67px;top:382px;transform:scaleX(1.0472);transform-origin:right center;">2.653</div>
<div class="x c" style="left:648px;width:75px;top:382px;transform:scaleX(1.0475);transform-origin:right center;">3</div>
<div class="x c" style="left:726px;width:72.7px;top:382px;transform:scaleX(1.0472);transform-origin:right center;">2.653</div>
<div class="x c" style="left:802px;width:72.3px;top:382px;transform:scaleX(1.0475);transform-origin:right center;">0</div>
<div class="x c" style="left:878px;width:66.8px;top:382px;transform:scaleX(1.0472);transform-origin:right center;">2.653</div>
<div class="x c" style="left:948px;width:66.4px;top:382px;transform:scaleX(1.0473);transform-origin:right center;">43.847</div>
<div class="x c" style="left:1017px;width:66.8px;top:382px;transform:scaleX(1.0473);transform-origin:right center;">89.077</div>
<div class="x c" style="left:1086px;width:66.7px;top:382px;transform:scaleX(1.0475);transform-origin:right center;">615</div>
<div class="x b" style="left:7.8px;width:123.2px;top:396px;transform:scaleX(0.9871);transform-origin:left center;">Umbria</div>
<div class="x c" style="left:132px;width:71px;top:396px;transform:scaleX(1.0475);transform-origin:right center;">3</div>
<div class="x c" style="left:206px;width:69.7px;top:396px;transform:scaleX(1.0475);transform-origin:right center;">0</div>
<div class="x c" style="left:279px;width:71px;top:396px;transform:scaleX(1.0475);transform-origin:right center;">4</div>
<div class="x c" style="left:353px;width:70.5px;top:396px;transform:scaleX(1.0475);transform-origin:right center;">7</div>
<div class="x c" style="left:426px;width:73px;top:396px;transform:scaleX(1.0472);transform-origin:right center;">1.360</div>
<div class="x c" style="left:502px;width:73px;top:396px;transform:scaleX(1.0475);transform-origin:right center;">80</div>
<div class="x c" style="left:578px;width:67px;top:396px;transform:scaleX(1.0472);transform-origin:right center;">1.447</div>
<div class="x c" style="left:648px;width:75px;top:396px;transform:scaleX(1.0475);transform-origin:right center;">0</div>
<div class="x c" style="left:726px;width:72.7px;top:396px;transform:scaleX(1.0472);transform-origin:right center;">1.433</div>
<div class="x c" style="left:802px;width:72.3px;top:396px;transform:scaleX(1.0475);transform-origin:right center;">14</div>
<div class="x c" style="left:878px;width:66.8px;top:396px;transform:scaleX(1.0472);transform-origin:right center;">1.447</div>
<div class="x c" style="left:948px;width:66.4px;top:396px;transform:scaleX(1.0473);transform-origin:right center;">69.412</div>
<div class="x c" style="left:1017px;width:66.8px;top:396px;transform:scaleX(1.0473);transform-origin:right center;">103.642</div>
<div class="x c" style="left:1086px;width:66.7px;top:396px;transform:scaleX(1.0472);transform-origin:right center;">1.031</div>
<div class="x b" style="left:7.8px;width:123.2px;top:410px;transform:scaleX(0.9285);transform-origin:left center;">Sardegna</div>
<div class="x c" style="left:132px;width:71px;top:410px;transform:scaleX(1.0475);transform-origin:right center;">3</div>
<div class="x c" style="left:206px;width:69.7px;top:410px;transform:scaleX(1.0475);transform-origin:right center;">0</div>
<div class="x c" style="left:279px;width:71px;top:410px;transform:scaleX(1.0475);transform-origin:right center;">7</div>
<div class="x c" style="left:353px;width:70.5px;top:410px;transform:scaleX(1.0475);transform-origin:right center;">10</div>
<div class="x c" style="left:426px;width:73px;top:410px;transform:scaleX(1.0472);transform-origin:right center;">1.227</div>
<div class="x c" style="left:502px;width:73px;top:410px;transform:scaleX(1.0475);transform-origin:right center;">134</div>
<div class="x c" style="left:578px;width:67px;top:410px;transform:scaleX(1.0472);transform-origin:right center;">1.371</div>
<div class="x c" style="left:648px;width:75px;top:410px;transform:scaleX(1.0475);transform-origin:right center;">0</div>
<div class="x c" style="left:726px;width:72.7px;top:410px;transform:scaleX(1.0472);transform-origin:right center;">1.360</div>
<div class="x c" style="left:802px;width:72.3px;top:410px;transform:scaleX(1.1224);transform-origin:right center;">11</div>
<div class="x c" style="left:878px;width:66.8px;top:410px;transform:scaleX(1.0472);transform-origin:right center;">1.371</div>
<div class="x c" style="left:948px;width:66.4px;top:410px;transform:scaleX(1.0473);transform-origin:right center;">76.752</div>
<div class="x c" style="left:1017px;width:66.8px;top:410px;transform:scaleX(1.0473);transform-origin:right center;">90.529</div>
<div class="x c" style="left:1086px;width:66.7px;top:410px;transform:scaleX(1.0475);transform-origin:right center;">968</div>
<div class="x b" style="left:7.8px;width:123.2px;top:424px;transform:scaleX(0.9416);transform-origin:left center;">Valle d'Aosta</div>
<div class="x c" style="left:132px;width:71px;top:424px;transform:scaleX(1.0475);transform-origin:right center;">4</div>
<div class="x c" style="left:206px;width:69.7px;top:424px;transform:scaleX(1.0475);transform-origin:right center;">0</div>
<div class="x c" style="left:279px;width:71px;top:424px;transform:scaleX(1.0475);transform-origin:right center;">1</div>
<div class="x c" style="left:353px;width:70.5px;top:424px;transform:scaleX(1.0475);transform-origin:right center;">5</div>
<div class="x c" style="left:426px;width:73px;top:424px;transform:scaleX(1.0472);transform-origin:right center;">1.045</div>
<div class="x c" style="left:502px;width:73px;top:424px;transform:scaleX(1.0475);transform-origin:right center;">146</div>
<div class="x c" style="left:578px;width:67px;top:424px;transform:scaleX(1.0472);transform-origin:right center;">1.196</div>
<div class="x c" style="left:648px;width:75px;top:424px;transform:scaleX(1.0475);transform-origin:right center;">0</div>
<div class="x c" style="left:726px;width:72.7px;top:424px;transform:scaleX(1.0472);transform-origin:right center;">1.079</div>
<div class="x c" style="left:802px;width:72.3px;top:424px;transform:scaleX(1.0963);transform-origin:right center;">117</div>
<div class="x c" style="left:878px;width:66.8px;top:424px;transform:scaleX(1.0472);transform-origin:right center;">1.196</div>
<div class="x c" style="left:948px;width:66.4px;top:424px;transform:scaleX(1.0473);transform-origin:right center;">14.304</div>
<div class="x c" style="left:1017px;width:66.8px;top:424px;transform:scaleX(1.0473);transform-origin:right center;">19.246</div>
<div class="x c" style="left:1086px;width:66.7px;top:424px;transform:scaleX(1.0475);transform-origin:right center;">194</div>
<div class="x b" style="left:7.8px;width:123.2px;top:439px;transform:scaleX(0.9442);transform-origin:left center;">Calabria</div>
<div class="x c" style="left:132px;width:71px;top:439px;transform:scaleX(1.0475);transform-origin:right center;">4</div>
<div class="x c" style="left:206px;width:69.7px;top:439px;transform:scaleX(1.0475);transform-origin:right center;">0</div>
<div class="x c" style="left:279px;width:71px;top:439px;transform:scaleX(1.0475);transform-origin:right center;">24</div>
<div class="x c" style="left:353px;width:70.5px;top:439px;transform:scaleX(1.0475);transform-origin:right center;">28</div>
<div class="x c" style="left:426px;width:73px;top:439px;transform:scaleX(1.0472);transform-origin:right center;">1.060</div>
<div class="x c" style="left:502px;width:73px;top:439px;transform:scaleX(1.0475);transform-origin:right center;">97</div>
<div class="x c" style="left:578px;width:67px;top:439px;transform:scaleX(1.0472);transform-origin:right center;">1.185</div>
<div class="x c" style="left:648px;width:75px;top:439px;transform:scaleX(1.0475);transform-origin:right center;">0</div>
<div class="x c" style="left:726px;width:72.7px;top:439px;transform:scaleX(1.0472);transform-origin:right center;">1.159</div>
<div class="x c" style="left:802px;width:72.3px;top:439px;transform:scaleX(1.0475);transform-origin:right center;">26</div>
<div class="x c" style="left:878px;width:66.8px;top:439px;transform:scaleX(1.0472);transform-origin:right center;">1.185</div>
<div class="x c" style="left:948px;width:66.4px;top:439px;transform:scaleX(1.0473);transform-origin:right center;">100.551</div>
<div class="x c" style="left:1017px;width:66.8px;top:439px;transform:scaleX(1.0473);transform-origin:right center;">102.585</div>
<div class="x c" style="left:1086px;width:66.7px;top:439px;transform:scaleX(1.0475);transform-origin:right center;">943</div>
<div class="x b" style="left:7.8px;width:123.2px;top:453px;transform:scaleX(0.9897);transform-origin:left center;">Molise</div>
<div class="x c" style="left:132px;width:71px;top:453px;transform:scaleX(1.0475);transform-origin:right center;">0</div>
<div class="x c" style="left:206px;width:69.7px;top:453px;transform:scaleX(1.0475);transform-origin:right center;">0</div>
<div class="x c" style="left:279px;width:71px;top:453px;transform:scaleX(1.0475);transform-origin:right center;">15</div>
<div class="x c" style="left:353px;width:70.5px;top:453px;transform:scaleX(1.0475);transform-origin:right center;">15</div>
<div class="x c" style="left:426px;width:73px;top:453px;transform:scaleX(1.0475);transform-origin:right center;">407</div>
<div class="x c" style="left:502px;width:73px;top:453px;transform:scaleX(1.0475);transform-origin:right center;">23</div>
<div class="x c" style="left:578px;width:67px;top:453px;transform:scaleX(1.0475);transform-origin:right center;">445</div>
<div class="x c" style="left:648px;width:75px;top:453px;transform:scaleX(1.0475);transform-origin:right center;">0</div>
<div class="x c" style="left:726px;width:72.7px;top:453px;transform:scaleX(1.0475);transform-origin:right center;">444</div>
<div class="x c" style="left:802px;width:72.3px;top:453px;transform:scaleX(1.0475);transform-origin:right center;">1</div>
<div class="x c" style="left:878px;width:66.8px;top:453px;transform:scaleX(1.0475);transform-origin:right center;">445</div>
<div class="x c" style="left:948px;width:66.4px;top:453px;transform:scaleX(1.0473);transform-origin:right center;">23.033</div>
<div class="x c" style="left:1017px;width:66.8px;top:453px;transform:scaleX(1.0473);transform-origin:right center;">24.149</div>
<div class="x c" style="left:1086px;width:66.7px;top:453px;transform:scaleX(1.0475);transform-origin:right center;">186</div>
<div class="x b" style="left:7.8px;width:123.2px;top:467px;transform:scaleX(0.9211);transform-origin:left center;">Basilicata</div>
<div class="x c" style="left:132px;width:71px;top:467px;transform:scaleX(1.0475);transform-origin:right center;">2</div>
<div class="x c" style="left:206px;width:69.7px;top:467px;transform:scaleX(1.0475);transform-origin:right center;">0</div>
<div class="x c" style="left:279px;width:71px;top:467px;transform:scaleX(1.0475);transform-origin:right center;">3</div>
<div class="x c" style="left:353px;width:70.5px;top:467px;transform:scaleX(1.0475);transform-origin:right center;">5</div>
<div class="x c" style="left:426px;width:73px;top:467px;transform:scaleX(1.0475);transform-origin:right center;">373</div>
<div class="x c" style="left:502px;width:73px;top:467px;transform:scaleX(1.0475);transform-origin:right center;">27</div>
<div class="x c" style="left:578px;width:67px;top:467px;transform:scaleX(1.0475);transform-origin:right center;">405</div>
<div class="x c" style="left:648px;width:75px;top:467px;transform:scaleX(1.0475);transform-origin:right center;">0</div>
<div class="x c" style="left:726px;width:72.7px;top:467px;transform:scaleX(1.0475);transform-origin:right center;">401</div>
<div class="x c" style="left:802px;width:72.3px;top:467px;transform:scaleX(1.0475);transform-origin:right center;">4</div>
<div class="x c" style="left:878px;width:66.8px;top:467px;transform:scaleX(1.0475);transform-origin:right center;">405</div>
<div class="x c" style="left:948px;width:66.4px;top:467px;transform:scaleX(1.0473);transform-origin:right center;">40.976</div>
<div class="x c" style="left:1017px;width:66.8px;top:467px;transform:scaleX(1.0473);transform-origin:right center;">41.756</div>
<div class="x c" style="left:1086px;width:66.7px;top:467px;transform:scaleX(1.0475);transform-origin:right center;">426</div>
<div class="x m b" style="left:5px;width:126px;top:485px;transform:scaleX(0.9272);transform-origin:center center;">TOTALE</div>
<div class="x c b" style="left:132px;width:71px;top:485px;transform:scaleX(1.071);transform-origin:right center;">871</div>
<div class="x c b" style="left:206px;width:69.7px;top:485px;transform:scaleX(1.071);transform-origin:right center;">69</div>
<div class="x c b" style="left:279px;width:71px;top:485px;transform:scaleX(1.0764);transform-origin:right center;">12.519</div>
<div class="x c b" style="left:353px;width:70.5px;top:485px;transform:scaleX(1.0764);transform-origin:right center;">13.459</div>
<div class="x c b" style="left:426px;width:73px;top:485px;transform:scaleX(1.0756);transform-origin:right center;">193.978</div>
<div class="x c b" style="left:502px;width:73px;top:485px;transform:scaleX(1.0764);transform-origin:right center;">34.926</div>
<div class="x c b" style="left:578px;width:67px;top:485px;transform:scaleX(1.0756);transform-origin:right center;">242.363</div>
<div class="x c b" style="left:648px;width:75px;top:485px;transform:scaleX(1.071);transform-origin:right center;">229</div>
<div class="x c b" style="left:726px;width:72.7px;top:485px;transform:scaleX(1.0756);transform-origin:right center;">222.106</div>
<div class="x c b" style="left:802px;width:72.3px;top:485px;transform:scaleX(1.0764);transform-origin:right center;">20.257</div>
<div class="x c b" style="left:878px;width:66.8px;top:485px;transform:scaleX(1.0756);transform-origin:right center;">242.363</div>
<div class="x c b" style="left:948px;width:66.4px;top:485px;transform:scaleX(1.0784);transform-origin:right center;">3.493.126</div>
<div class="x c b" style="left:1017px;width:66.8px;top:485px;transform:scaleX(1.0784);transform-origin:right center;">5.806.668</div>
<div class="x c b" style="left:1086px;width:66.7px;top:485px;transform:scaleX(1.0764);transform-origin:right center;">52.552</div>
<div class="x b" style="left:8px;width:192px;top:532px;transform:scaleX(1.0135);transform-origin:left center;font-size:9.5px;">Note:</div>
<div class="x b" style="left:8px;width:592px;top:553px;transform:scaleX(0.8682);transform-origin:left center;font-size:8.4px;">La Regione Emilia Romagna comunica : In seguito ad un ricontrollo, sono stati eliminati 15 casi perchè&nbsp; doppioni.</div>
</body></html>
